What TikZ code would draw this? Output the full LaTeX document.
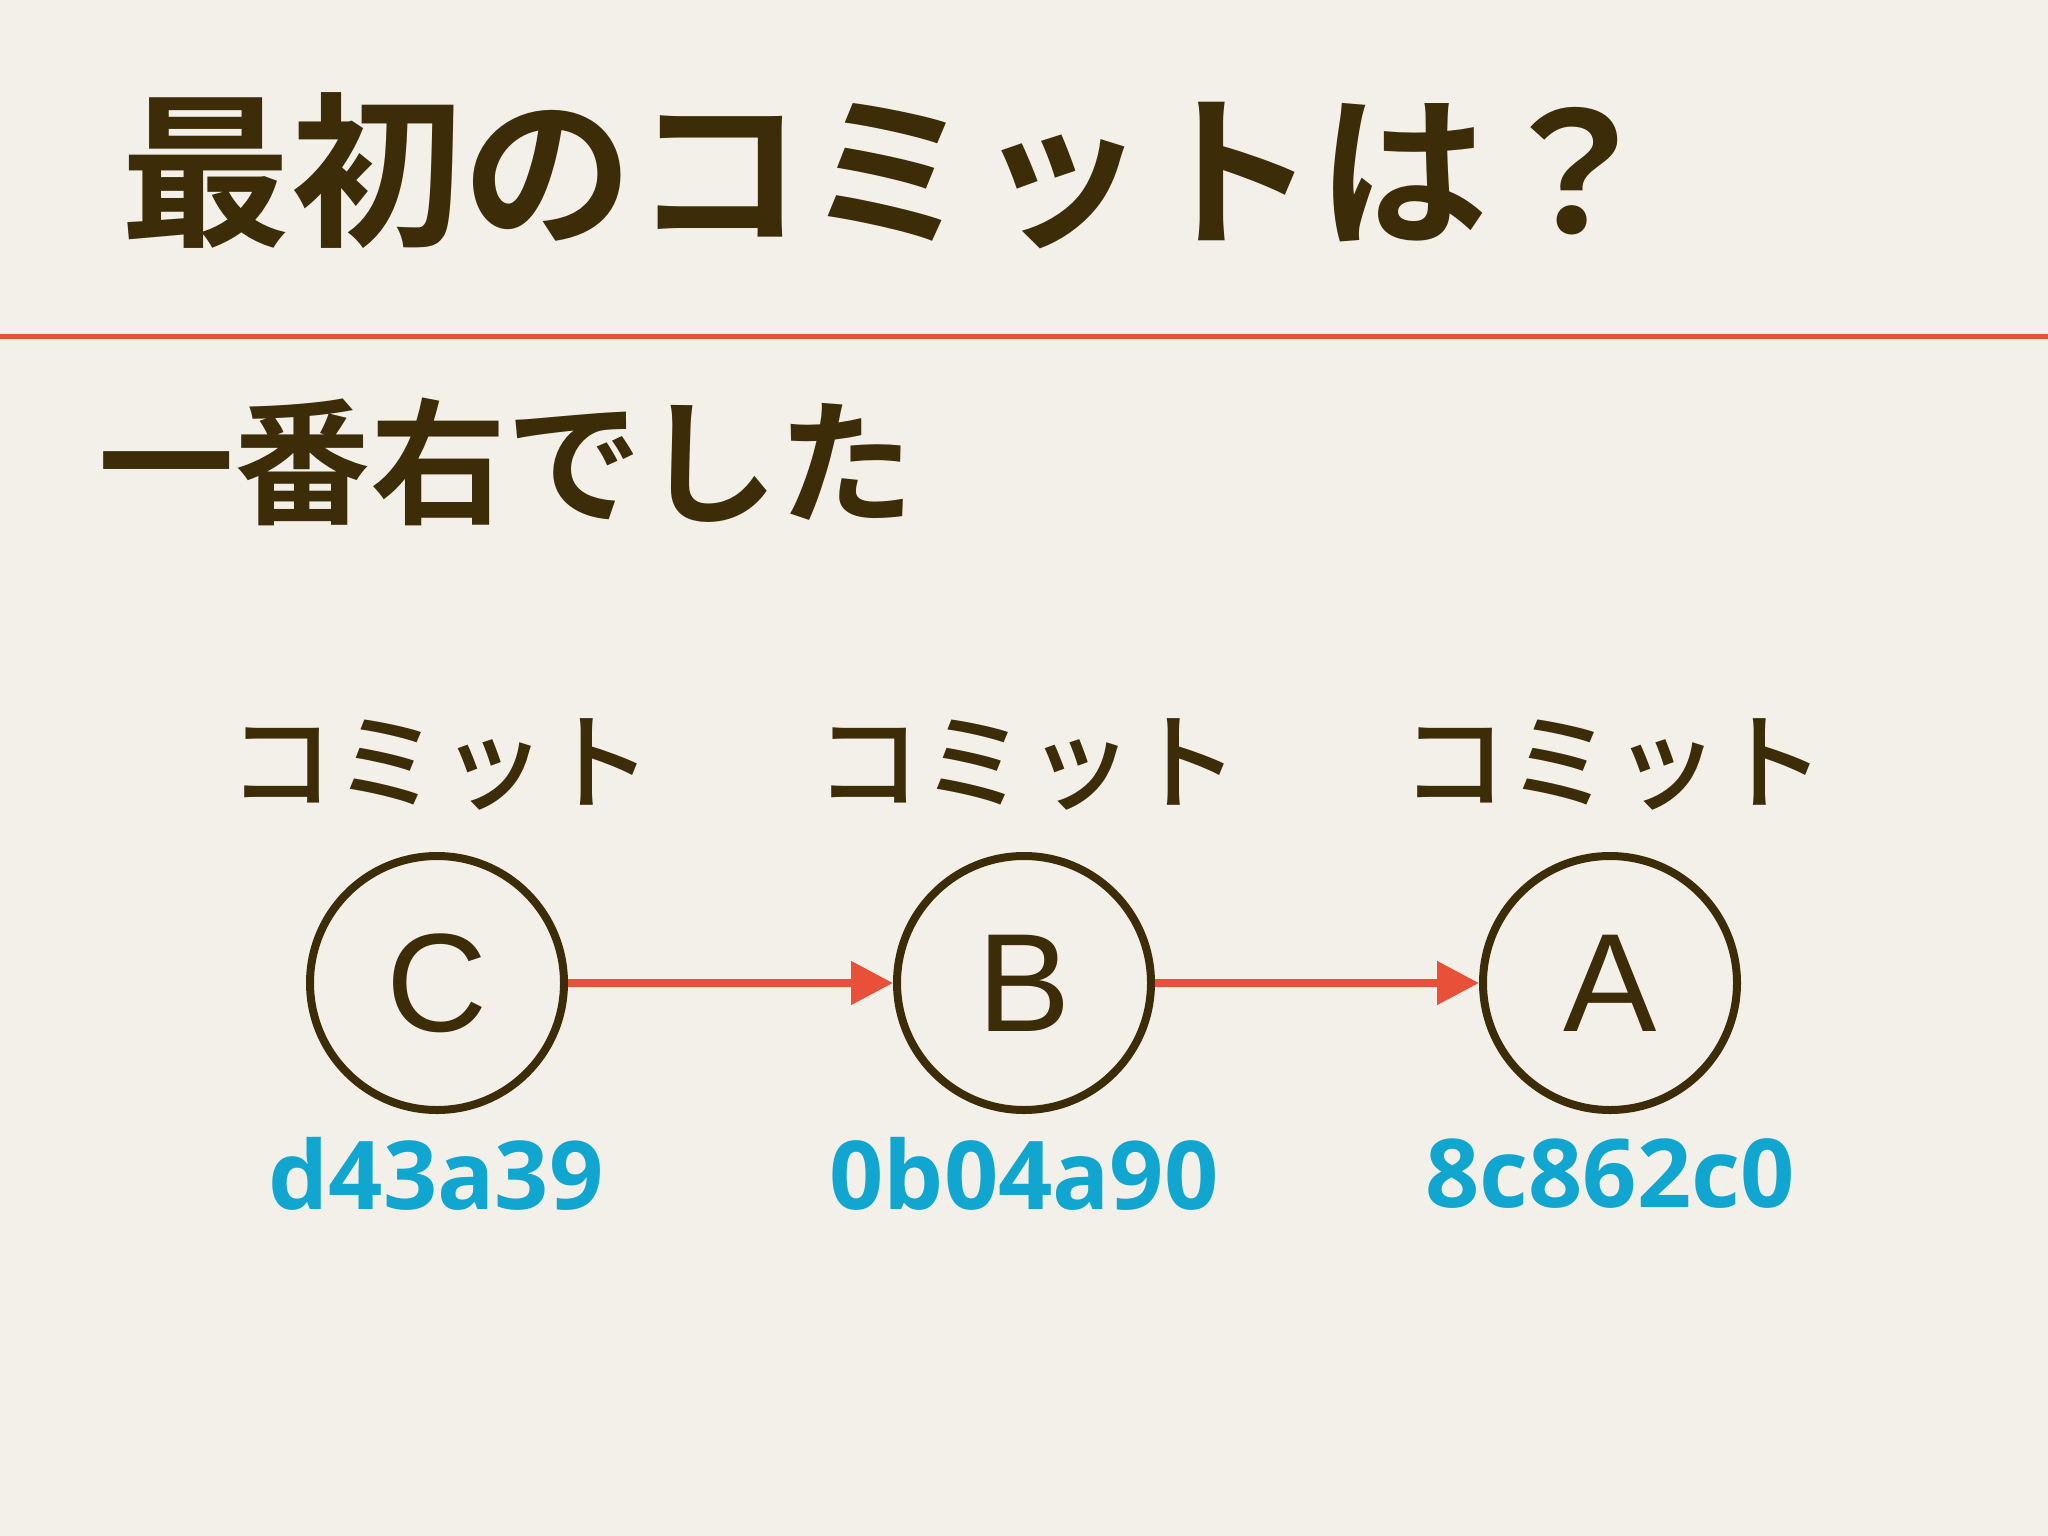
\documentclass[tikz,border=0pt]{standalone}
\usepackage{fontspec}
\usetikzlibrary{arrows.meta}
\newfontfamily\jpfont{Noto Sans CJK JP}[BoldFont={Noto Sans CJK JP Bold}]
\newfontfamily\jpmedfont{Noto Sans CJK JP Medium}
\newfontfamily\hashfont{Open Sans}[BoldFont={Open Sans Bold}]
\newfontfamily\letterfont{Liberation Sans}
\definecolor{bgc}{RGB}{242,240,232}
\definecolor{ink}{RGB}{60,45,8}
\definecolor{redc}{RGB}{233,80,58}
\definecolor{cyanc}{RGB}{16,166,208}
\tikzset{
  commit/.style={circle, draw=ink, line width=8pt, minimum size=254pt, inner sep=0pt, font=\letterfont\fontsize{140}{140}\selectfont, text=ink},
  clabel/.style={inner sep=0pt, font=\jpmedfont\fontsize{106}{106}\selectfont, text=ink},
  hashlabel/.style={inner sep=0pt, font=\hashfont\bfseries\fontsize{95}{95}\selectfont, text=cyanc},
  link/.style={draw=redc, line width=8pt, -{Triangle[length=42pt,width=42pt]}}
}
\begin{document}
\begin{tikzpicture}[x=1pt,y=-1pt]
\fill[bgc] (0,0) rectangle (2048,1536);
\useasboundingbox (0,0) rectangle (2048,1536);
\node[anchor=west, inner sep=0pt, text=ink, font=\jpfont\bfseries\fontsize{166}{166}\selectfont] (title) at (120,171) {\scalebox{1.03}[1]{最初のコミットは？}};
\draw[redc, line width=5pt] (0,336) -- (2048,336);
\node[anchor=west, inner sep=0pt, text=ink, font=\jpfont\bfseries\fontsize{136}{136}\selectfont] (sub) at (98,462) {一番右でした};
\node[commit] (C) at (437,983) {C};
\node[commit] (B) at (1024,983) {B};
\node[commit] (A) at (1610,983) {A};
\node[clabel] (lc) at (440,764) {コミット};
\node[clabel] (lb) at (1027,764) {コミット};
\node[clabel] (la) at (1613,764) {コミット};
\node[hashlabel] (hc) at (436,1174) {d43a39};
\node[hashlabel] (hb) at (1024,1174) {0b04a90};
\node[hashlabel] (ha) at (1610,1174) {8c862c0};
\draw[link] (C.east) -- (B.west);
\draw[link] (B.east) -- (A.west);
\end{tikzpicture}
\end{document}
